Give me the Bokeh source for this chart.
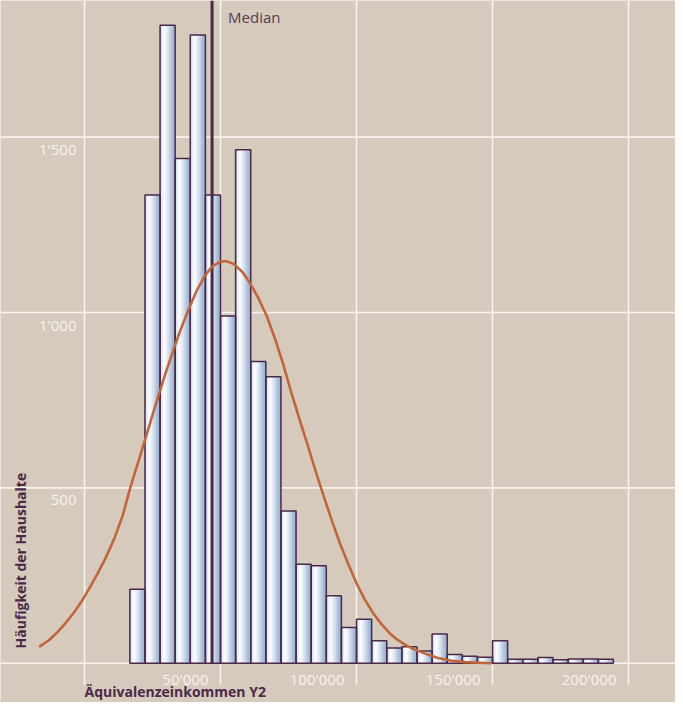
import numpy as np
from bokeh.plotting import figure
from bokeh.models import ColumnDataSource, Range1d
from bokeh.core.properties import value
from bokeh.embed import file_html
from bokeh.resources import INLINE

# ---- data ----
households = [211, 1335, 1819, 1439, 1791, 1335, 990, 1464, 860, 817, 434, 282,
              278, 192, 102, 125, 64, 43, 47, 35, 83, 25, 20, 17, 64, 11, 11,
              16, 10, 12, 12, 11]
bin_start = 16667
bin_width = 5556
median_income = 46900

curve_income = [-16400, -13000, -10000, -7000, -4000, -1000, 2000, 5000, 8000,
                11000, 14000, 17000, 20000, 23000, 26000, 29000, 32000, 35000,
                38000, 41000, 44000, 47000, 50000, 52000, 55000, 58000, 61000,
                64000, 67000, 70000, 73000, 76000, 79000, 82000, 85000, 88000,
                91000, 94000, 97000, 100000, 103000, 106000, 109000, 112000,
                115000, 118000, 121000, 125000, 130000, 135000, 140000, 149400]
curve_households = [48, 66, 88, 114, 143, 177, 216, 258, 304,
                    356, 420, 505, 580, 656, 733, 808, 878, 944,
                    1004, 1058, 1102, 1132, 1145, 1147, 1138, 1116, 1082,
                    1040, 990, 926, 854, 772, 697, 623, 547, 475,
                    405, 340, 282, 228, 182, 144, 113, 87,
                    67, 52, 40, 28, 15, 7, 3, 0]

x_ticks = [0, 50000, 100000, 150000, 200000]
x_tick_labels = ["50'000", "100'000", "150'000", "200'000"]
y_ticks = [0, 500, 1000, 1500]
y_tick_labels = ["500", "1'000", "1'500"]

x_title = "Äquivalenzeinkommen Y2"
y_title = "Häufigkeit der Haushalte"
median_label = "Median"

# ---- styling ----
BG = "#d6cabd"
GRID = "#f7f3ee"
PURPLE = "#4b2948"
ORANGE = "#c4643a"
FONT = value("Open Sans")

x_lo, x_hi = -30882, 217279
y_lo, y_hi = -112.1, 1889.7

p = figure(width=675, height=702, x_range=Range1d(x_lo, x_hi),
           y_range=Range1d(y_lo, y_hi), output_backend="svg",
           toolbar_location=None, x_axis_location=None, y_axis_location=None,
           min_border=0)
p.outline_line_color = None
p.background_fill_color = BG
p.border_fill_color = BG
p.grid.visible = False

# grid lines
p.segment(x0=x_ticks, x1=x_ticks, y0=[-60] * len(x_ticks), y1=[y_hi] * len(x_ticks),
          line_color=GRID, line_width=1.6)
p.segment(x0=[x_lo] * len(y_ticks), x1=[x_hi] * len(y_ticks), y0=y_ticks, y1=y_ticks,
          line_color=GRID, line_width=1.6)

# bars with horizontal gradient (strips)
n = len(households)
lefts = np.array([bin_start + i * bin_width for i in range(n)], dtype=float)
rights = lefts + bin_width
tops = np.array(households, dtype=float)

stops_t = [0.0, 0.12, 0.28, 0.55, 0.82, 1.0]
stops_c = [(0xaf, 0xc2, 0xdc), (0xe6, 0xee, 0xf7), (0xff, 0xff, 0xff),
           (0xd6, 0xe1, 0xee), (0xa6, 0xbd, 0xda), (0x96, 0xb0, 0xd2)]
N = 14
sl, sr, st, sc = [], [], [], []
for k in range(N):
    t = (k + 0.5) / N
    rgb = [int(round(np.interp(t, stops_t, [c[j] for c in stops_c]))) for j in range(3)]
    col = "#%02x%02x%02x" % tuple(rgb)
    for i in range(n):
        sl.append(lefts[i] + bin_width * k / N)
        sr.append(rights[i])
        st.append(tops[i])
        sc.append(col)
strips = ColumnDataSource(dict(left=sl, right=sr, top=st, bottom=[0] * len(sl), color=sc))
p.quad(left="left", right="right", top="top", bottom="bottom", fill_color="color",
       line_color=None, source=strips)

bars = ColumnDataSource(dict(left=lefts, right=rights, top=tops, bottom=np.zeros(n)))
p.quad(left="left", right="right", top="top", bottom="bottom", fill_color=None,
       line_color=PURPLE, line_width=1.5, source=bars)

# median line
p.segment(x0=[median_income], x1=[median_income], y0=[0], y1=[y_hi],
          line_color=PURPLE, line_width=3)

# fitted curve
p.line(curve_income, curve_households, line_color=ORANGE, line_width=2.6,
       line_join="round", line_cap="round")

# tick labels
p.text(x=x_ticks[1:], y=[0] * 4, text=x_tick_labels, text_align="right",
       text_baseline="middle", x_offset=-12, y_offset=16, text_font=FONT,
       text_font_size="15px", text_color=GRID)
p.text(x=[0] * 3, y=y_ticks[1:], text=y_tick_labels, text_align="right",
       text_baseline="middle", x_offset=-8, y_offset=12, text_font=FONT,
       text_font_size="15px", text_color=GRID)

# titles
p.text(x=[0], y=[-80], text=[x_title], text_align="left", text_baseline="middle",
       text_font=FONT, text_font_size="14px", text_font_style="bold",
       text_color=PURPLE)
p.text(x=[-23529], y=[42], text=[y_title], angle=np.pi / 2, text_align="left",
       text_baseline="middle", text_font=FONT, text_font_size="14px",
       text_font_style="bold", text_color=PURPLE)
p.text(x=[median_income], y=[1843], text=[median_label], text_align="left",
       text_baseline="middle", x_offset=16, text_font=FONT, text_font_size="15px",
       text_color="#5a3a55")

open("out.html", "w").write(file_html(p, INLINE))
